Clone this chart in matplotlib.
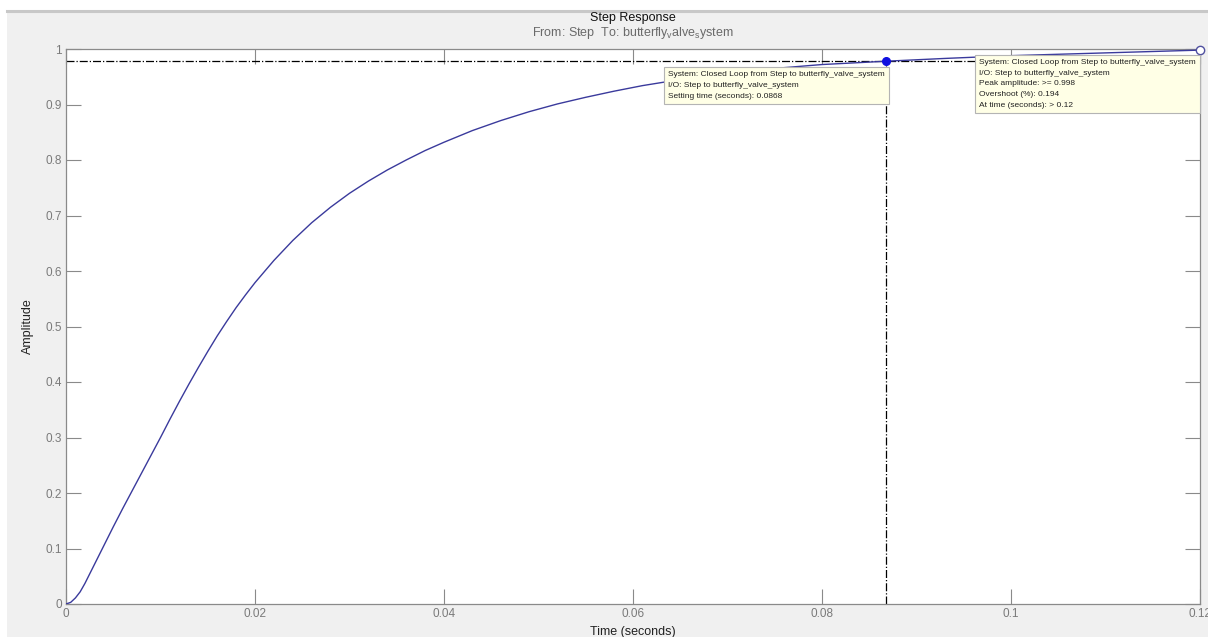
import numpy as np
import matplotlib
matplotlib.use("Agg")
import matplotlib.pyplot as plt
from matplotlib.patches import Rectangle
from matplotlib.lines import Line2D

time_s = [0.0, 0.0005, 0.001, 0.0015, 0.002, 0.0025, 0.003, 0.004, 0.005, 0.006,
          0.007, 0.008, 0.009, 0.010, 0.011, 0.012, 0.013, 0.014, 0.015, 0.016,
          0.017, 0.018, 0.019, 0.020, 0.022, 0.024, 0.026, 0.028, 0.030, 0.032,
          0.034, 0.036, 0.038, 0.040, 0.043, 0.046, 0.049, 0.052, 0.055, 0.058,
          0.061, 0.065, 0.070, 0.075, 0.080, 0.0868, 0.093, 0.100, 0.106, 0.113,
          0.120]
amplitude = [0.0, 0.003, 0.011, 0.022, 0.037, 0.054, 0.071, 0.105, 0.139, 0.172,
             0.204, 0.236, 0.268, 0.300, 0.333, 0.365, 0.396, 0.426, 0.455, 0.483,
             0.509, 0.534, 0.557, 0.579, 0.619, 0.655, 0.687, 0.715, 0.740, 0.762,
             0.782, 0.800, 0.817, 0.832, 0.853, 0.871, 0.887, 0.901, 0.913, 0.924,
             0.934, 0.945, 0.956, 0.965, 0.972, 0.978, 0.983, 0.988, 0.991, 0.9945,
             0.998]

settle_t = 0.0868
settle_y = 0.978
peak_t = 0.12
peak_y = 0.998

x_ticks = [0, 0.02, 0.04, 0.06, 0.08, 0.1, 0.12]
x_labels = ["0", "0.02", "0.04", "0.06", "0.08", "0.1", "0.12"]
y_ticks = [0, 0.1, 0.2, 0.3, 0.4, 0.5, 0.6, 0.7, 0.8, 0.9, 1.0]
y_labels = ["0", "0.1", "0.2", "0.3", "0.4", "0.5", "0.6", "0.7", "0.8", "0.9", "1"]

settle_text = ["System: Closed Loop from Step to butterfly_valve_system",
               "I/O: Step to butterfly_valve_system",
               "Setting time (seconds): 0.0868"]
peak_text = ["System: Closed Loop from Step to butterfly_valve_system",
             "I/O: Step to butterfly_valve_system",
             "Peak amplitude: >= 0.998",
             "Overshoot (%): 0.194",
             "At time (seconds): > 0.12"]
# -----------------------------------------

FONT = ["Liberation Sans Narrow", "Liberation Sans", "DejaVu Sans"]
plt.rcParams["font.family"] = FONT
plt.rcParams["mathtext.fontset"] = "custom"
plt.rcParams["mathtext.rm"] = "Liberation Sans"
plt.rcParams["mathtext.it"] = "Liberation Sans"

W, H = 1208, 637
fig = plt.figure(figsize=(W / 100, H / 100), dpi=100, facecolor="white")

# grey panel and its top border line
fig.patches.append(Rectangle((7 / W, 0), 1, 1 - 12 / H, transform=fig.transFigure,
                             facecolor="#f0f0f0", edgecolor="none", zorder=-10))
fig.lines.append(Line2D([7 / W, 1], [1 - 10.5 / H, 1 - 10.5 / H], transform=fig.transFigure,
                        color="#c8c8c8", linewidth=2.2))

ax = fig.add_axes([66 / W, 33 / H, (1200 - 66) / W, (604 - 49) / H])
ax.set_facecolor("white")

ax.plot(time_s, amplitude, color="#3a3a9c", linewidth=1.0, zorder=3)

# settling time guides
ax.axhline(settle_y, color="black", linestyle="-.", linewidth=0.9, zorder=2)
ax.plot([settle_t, settle_t], [0, settle_y], color="black", linestyle="-.",
        linewidth=0.9, zorder=2)
ax.plot([settle_t], [settle_y], "o", color="#1010e0", markersize=5.5, zorder=6)
ax.plot([peak_t], [peak_y], "o", markerfacecolor="white", markeredgecolor="#5050a0",
        markersize=6, markeredgewidth=1, clip_on=False, zorder=6)

ax.set_xlim(0, 0.12)
ax.set_ylim(0, 1)
ax.set_xticks(x_ticks)
ax.set_xticklabels(x_labels)
ax.set_yticks(y_ticks)
ax.set_yticklabels(y_labels)
ax.tick_params(direction="in", length=11, width=0.8, color="#8a8a8a",
               labelcolor="#7a7a7a", labelsize=8.5, top=True, right=True, pad=3)
for s in ax.spines.values():
    s.set_color("#8a8a8a")
    s.set_linewidth(0.9)

ax.set_xlabel("Time (seconds)", fontsize=9, color="#222222", labelpad=4)
ax.set_ylabel("Amplitude", fontsize=9, color="#222222", labelpad=8)

fig.text(633 / W, 1 - 18 / H, "Step Response", ha="center", va="center",
         fontsize=9, color="#111111")
fig.text(633 / W, 1 - 33 / H,
         r"From: Step  To: butterfly$_{\mathregular{v}}$alve$_{\mathregular{s}}$ystem",
         ha="center", va="center", fontsize=9, color="#6a6a6a")

box_style = dict(boxstyle="square,pad=0.5", facecolor="#ffffe6", edgecolor="#b4b4b4",
                 linewidth=0.8)
ax.text(0.0637, 0.960, "\n".join(settle_text), fontsize=6, va="top", ha="left",
        linespacing=1.75, color="#222222", bbox=box_style, zorder=8)
ax.text(0.0966, 0.982, "\n".join(peak_text), fontsize=6, va="top", ha="left",
        linespacing=1.75, color="#222222", bbox=box_style, zorder=8)

fig.savefig("out.png", dpi=100, facecolor=fig.get_facecolor())
